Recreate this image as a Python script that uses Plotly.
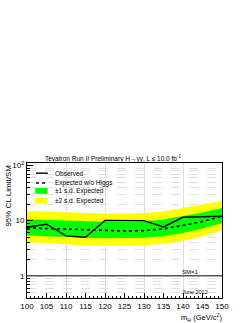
import plotly.graph_objects as go

mass = [100, 105, 110, 115, 120, 125, 130, 135, 140, 145, 150]
observed = [7.6, 8.6, 5.3, 5.0, 10.1, 10.0, 10.0, 7.7, 11.5, 11.8, 12.0]
expected = [7.4, 7.2, 7.0, 6.8, 6.6, 6.5, 6.6, 7.1, 8.2, 9.7, 12.0]
plus1 = [10.6, 10.3, 10.0, 9.8, 9.6, 9.6, 9.8, 10.5, 12.0, 14.0, 17.0]
minus1 = [5.4, 5.2, 5.0, 4.9, 4.8, 4.8, 4.9, 5.2, 6.0, 7.2, 9.0]
plus2 = [15.0, 14.5, 14.0, 13.7, 13.5, 13.4, 13.7, 14.6, 16.8, 19.5, 22.8]
minus2 = [4.1, 3.9, 3.7, 3.6, 3.5, 3.5, 3.6, 3.8, 4.3, 5.2, 6.6]

y_major = [1, 10, 100]
y_major_text = ["1", "10", "10<sup>2</sup>"]
y_minor = [0.5, 0.6, 0.7, 0.8, 0.9, 2, 3, 4, 5, 6, 7, 8, 9, 20, 30, 40, 50, 60, 70, 80, 90]
x_ticks = [100, 105, 110, 115, 120, 125, 130, 135, 140, 145, 150]

FONT = "Liberation Sans, Arial, sans-serif"
YELLOW = "#ffff00"
GREEN = "#00ff00"

fig = go.Figure()
fig.add_trace(go.Scatter(x=mass, y=plus2, mode="lines", line=dict(width=0, color=YELLOW),
                         showlegend=False, hoverinfo="skip"))
fig.add_trace(go.Scatter(x=mass, y=minus2, mode="lines", line=dict(width=0, color=YELLOW),
                         fill="tonexty", fillcolor=YELLOW, name="±2 s.d. Expected", showlegend=False))
fig.add_trace(go.Scatter(x=mass, y=plus1, mode="lines", line=dict(width=0, color=GREEN),
                         showlegend=False, hoverinfo="skip"))
fig.add_trace(go.Scatter(x=mass, y=minus1, mode="lines", line=dict(width=0, color=GREEN),
                         fill="tonexty", fillcolor=GREEN, name="±1 s.d. Expected", showlegend=False))
fig.add_trace(go.Scatter(x=mass, y=expected, mode="lines", line=dict(color="black", width=1.6, dash="dot"),
                         name="Expected w/o Higgs", showlegend=False))
fig.add_trace(go.Scatter(x=mass, y=observed, mode="lines", line=dict(color="black", width=1.4),
                         name="Observed", showlegend=False))

# SM = 1 reference line
fig.add_shape(type="line", xref="paper", x0=0, x1=1, yref="y", y0=1, y1=1,
              line=dict(color="#555555", width=1.5))

# manual compact legend
def px_x(p):
    return (p - 26) / 196.0

def px_y(p):
    return (300 - p) / 137.0

fig.add_shape(type="line", xref="paper", yref="paper", x0=px_x(35), x1=px_x(47),
              y0=px_y(173.3), y1=px_y(173.3), line=dict(color="black", width=1.4))
fig.add_shape(type="line", xref="paper", yref="paper", x0=px_x(35), x1=px_x(47),
              y0=px_y(183.3), y1=px_y(183.3), line=dict(color="black", width=1.6, dash="dot"))
fig.add_shape(type="rect", xref="paper", yref="paper", x0=px_x(34.3), x1=px_x(46.7),
              y0=px_y(194.3), y1=px_y(188.3), line=dict(width=0), fillcolor=GREEN)
fig.add_shape(type="rect", xref="paper", yref="paper", x0=px_x(34.3), x1=px_x(46.7),
              y0=px_y(204.3), y1=px_y(198.3), line=dict(width=0), fillcolor=YELLOW)

legend_labels = ["Observed", "Expected w/o Higgs", "±1 s.d. Expected", "±2 s.d. Expected"]
legend_y = [173.3, 183.3, 191.3, 201.3]
for lab, ly in zip(legend_labels, legend_y):
    fig.add_annotation(text=lab, xref="paper", yref="paper", x=px_x(52), y=px_y(ly),
                       xanchor="left", yanchor="middle", showarrow=False,
                       font=dict(size=6.5, color="black", family=FONT))

fig.add_annotation(text="Tevatron Run II Preliminary H→γγ, L ≤ 10.0 fb<sup>-1</sup>",
                   xref="paper", yref="paper", x=px_x(42), y=px_y(158.5),
                   xanchor="left", yanchor="middle", showarrow=False,
                   font=dict(size=6.5, color="black", family=FONT))
fig.add_annotation(text="SM=1", xref="paper", yref="paper", x=px_x(190), y=px_y(274),
                   xanchor="center", yanchor="middle", showarrow=False,
                   font=dict(size=6, color="black", family=FONT))
fig.add_annotation(text="June 2012", xref="paper", yref="paper", x=px_x(195), y=px_y(294),
                   xanchor="center", yanchor="middle", showarrow=False,
                   font=dict(size=5.5, color="black", family=FONT))
fig.add_annotation(text="m<sub>H</sub> (GeV/c<sup>2</sup>)", xref="paper", yref="paper",
                   x=px_x(224), y=px_y(312), xanchor="right", yanchor="top", showarrow=False,
                   font=dict(size=7.5, color="black", family=FONT))
fig.add_annotation(text="95% CL Limit/SM", xref="paper", yref="paper",
                   x=px_x(7), y=px_y(196), xanchor="center", yanchor="middle",
                   textangle=-90, showarrow=False,
                   font=dict(size=8, color="black", family=FONT))

fig.update_layout(
    width=249, height=323,
    margin=dict(l=26, r=27, t=163, b=23),
    paper_bgcolor="white", plot_bgcolor="white",
    font=dict(family=FONT, size=8, color="black"),
    showlegend=False,
    xaxis=dict(range=[100, 150], tickmode="array", tickvals=x_ticks,
               ticks="inside", ticklen=5, tickcolor="black", tickwidth=1,
               showgrid=False, zeroline=False,
               showline=True, linecolor="black", linewidth=1, mirror=True,
               minor=dict(dtick=1, ticks="inside", ticklen=2.5, tickcolor="black", showgrid=False),
               tickfont=dict(size=8)),
    xaxis2=dict(range=[100, 150], overlaying="x", matches="x", dtick=10, tick0=100,
                showgrid=True, gridcolor="#dddddd", gridwidth=1,
                showticklabels=False, ticks="", showline=False, zeroline=False),
    yaxis=dict(type="log", range=[-0.402, 2.045], tickmode="array",
               tickvals=y_major, ticktext=y_major_text,
               ticks="inside", ticklen=6, tickcolor="black",
               showgrid=False, zeroline=False,
               showline=True, linecolor="black", linewidth=1, mirror=True,
               minor=dict(tickmode="array", tickvals=y_minor, ticks="inside", ticklen=3,
                          tickcolor="black", showgrid=True, gridcolor="#e0e0e0",
                          griddash="dash", gridwidth=0.6),
               tickfont=dict(size=8)),
)
# invisible trace to activate the xaxis2 grid
fig.add_trace(go.Scatter(x=[mass[0]], y=[observed[0]], xaxis="x2", mode="markers",
                         marker=dict(opacity=0), showlegend=False, hoverinfo="skip"))

fig.write_html("out.html", config={"displayModeBar": False},
               post_script="document.body.style.margin='0';document.body.style.overflow='hidden';")
